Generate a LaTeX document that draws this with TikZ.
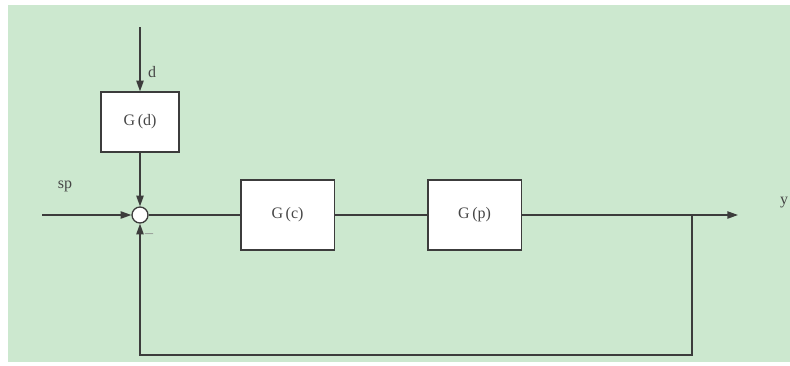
\documentclass[tikz,border=0pt]{standalone}
\usepackage{fontspec}
\setmainfont{Liberation Serif}
\usetikzlibrary{arrows.meta}
\definecolor{bggreen}{RGB}{204,232,207}
\definecolor{linec}{RGB}{60,60,60}
\definecolor{textc}{RGB}{70,70,70}
\begin{document}
\begin{tikzpicture}[x=0.75pt,y=-0.75pt,
  blockbox/.style={draw=linec,line width=1pt,fill=white,minimum width=70pt,minimum height=52.5pt,inner sep=0pt,font=\fontsize{12}{14}\selectfont,text=textc},
  sumnode/.style={circle,draw=linec,line width=1pt,fill=white,minimum size=12pt,inner sep=0pt},
  conn/.style={draw=linec,line width=1pt},
  arr/.style={conn,-{Triangle[length=8pt,width=5.5pt]}},
  lbl/.style={font=\fontsize{12}{14}\selectfont,text=textc,inner sep=0pt}]
\useasboundingbox (0,0) rectangle (790,365);
\fill[white] (0,0) rectangle (790,365);
\fill[bggreen] (8,5) rectangle (790,362);
% nodes
\node[blockbox,minimum width=58.5pt,minimum height=45pt] (gd) at (140,122) {G\,(d)};
\node[sumnode] (sum) at (140,215) {};
\node[blockbox] (gc) at (287.5,215) {G\,(c)};
\node[blockbox] (gp) at (474.5,215) {G\,(p)};
\coordinate (dtop) at (140,27);
\coordinate (in) at (42,215);
\coordinate (out) at (738,215);
\coordinate (br) at (692,215);
\coordinate (brd) at (692,355);
\coordinate (bl) at (140,355);
% connectors
\draw[arr] (dtop) -- (gd.north);
\draw[arr] (gd.south) -- (sum.north);
\draw[arr] (in) -- (sum.west);
\draw[conn] (sum.east) -- (gc.west);
\draw[conn] (gc.east) -- (gp.west);
\draw[arr] (gp.east) -- (out);
\draw[arr] (br) -- (brd) -- (bl) -- (sum.south);
% labels
\node[lbl] (dl) at (152,72) {d};
\node[lbl] (spl) at (65,186) {sp};
\node[lbl] (yl) at (784,203) {y};
\node[lbl,text=black!45] (minus) at (149,234) {\_};
\end{tikzpicture}
\end{document}
